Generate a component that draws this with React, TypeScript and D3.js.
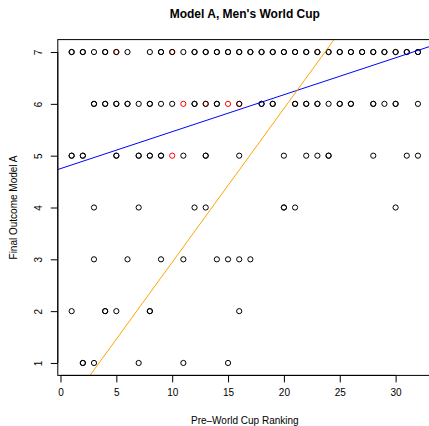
import { useEffect, useRef } from "react";
import * as d3 from "d3";

// ranks of teams for each final outcome (repeats = overplotted teams)
const outcome7Ranks = [1, 1, 2, 2, 3, 4, 4, 5, 6, 8, 9, 9, 10, 11, 12, 12, 13, 13, 14, 14, 15, 15, 16, 16, 17, 17, 18, 18, 19, 19, 20, 20, 21, 21, 22, 22, 23, 23, 24, 24, 25, 25, 26, 26, 27, 27, 28, 28, 29, 29, 30, 30, 31, 31, 32, 32];
const outcome6Ranks = [3, 3, 4, 4, 5, 5, 6, 6, 7, 8, 8, 9, 10, 12, 12, 13, 14, 14, 16, 18, 18, 19, 19, 21, 21, 22, 22, 23, 23, 24, 25, 25, 26, 26, 28, 28, 29, 30, 30, 32];
const outcome5Ranks = [1, 1, 2, 2, 5, 5, 7, 7, 8, 8, 9, 9, 11, 13, 13, 16, 20, 22, 23, 24, 24, 28, 31, 32];
const outcome4Ranks = [3, 7, 12, 13, 20, 20, 21, 30];
const outcome3Ranks = [3, 6, 9, 11, 14, 15, 16, 17];
const outcome2Ranks = [1, 4, 4, 5, 8, 8, 16];
const outcome1Ranks = [2, 2, 3, 7, 11, 15];

// highlighted (red) teams
const redRanks = [5, 10, 11, 13, 15, 16, 10];
const redOutcomes = [7, 7, 6, 6, 6, 6, 5];

// fitted lines: outcome = intercept + slope * rank
const blueLine = { intercept: 4.75, slope: 0.0713 };
const orangeLine = { intercept: -0.023, slope: 0.2966 };

const xTicks = [0, 5, 10, 15, 20, 25, 30];
const yTicks = [1, 2, 3, 4, 5, 6, 7];

export default function App() {
    const svgRef = useRef<SVGSVGElement | null>(null);

    useEffect(() => {
        if (!svgRef.current) return;
        document.body.style.margin = "0";

        const width = 429;
        const height = 426;

        d3.select(svgRef.current).selectAll("*").remove();
        const svg = d3
            .select(svgRef.current)
            .attr("width", width)
            .attr("height", height)
            .style("font-family", "Liberation Sans, Arial, sans-serif");

        const x = d3.scaleLinear().domain([-0.24, 33.24]).range([57.8, 431.8]);
        const y = d3.scaleLinear().domain([0.76, 7.24]).range([375.4, 39.6]);

        const [x0, x1] = x.range();
        const [yb, yt] = y.range();

        svg.append("defs")
            .append("clipPath")
            .attr("id", "plotClip")
            .append("rect")
            .attr("x", x0)
            .attr("y", yt)
            .attr("width", x1 - x0)
            .attr("height", yb - yt);

        // points
        const black: { r: number; o: number }[] = [];
        const rows = [outcome1Ranks, outcome2Ranks, outcome3Ranks, outcome4Ranks, outcome5Ranks, outcome6Ranks, outcome7Ranks];
        rows.forEach((ranks, i) => ranks.forEach((r) => black.push({ r, o: i + 1 })));
        const red = redRanks.map((r, i) => ({ r, o: redOutcomes[i] }));

        svg.append("g")
            .selectAll("circle")
            .data(red)
            .enter()
            .append("circle")
            .attr("cx", (d) => x(d.r))
            .attr("cy", (d) => y(d.o))
            .attr("r", 2.6)
            .attr("fill", "none")
            .attr("stroke", "#ff0000")
            .attr("stroke-width", 1);

        svg.append("g")
            .selectAll("circle")
            .data(black.filter((d) => !(d.o === 6 && (d.r === 11 || d.r === 15)) && !(d.o === 5 && d.r === 10)))
            .enter()
            .append("circle")
            .attr("cx", (d) => x(d.r))
            .attr("cy", (d) => y(d.o))
            .attr("r", 2.6)
            .attr("fill", "none")
            .attr("stroke", "#000")
            .attr("stroke-width", 1);

        // fitted lines
        const lines = svg.append("g").attr("clip-path", "url(#plotClip)");
        [
            { fit: blueLine, color: "#0000ff" },
            { fit: orangeLine, color: "#ffa500" },
        ].forEach(({ fit, color }) => {
            const ends = x.domain().map((r) => [x(r), y(fit.intercept + fit.slope * r)] as [number, number]);
            lines.append("path")
                .attr("d", d3.line()(ends))
                .attr("stroke", color)
                .attr("stroke-width", 1)
                .attr("fill", "none");
        });

        // box
        svg.append("rect")
            .attr("x", x0)
            .attr("y", yt)
            .attr("width", x1 - x0)
            .attr("height", yb - yt)
            .attr("fill", "none")
            .attr("stroke", "#000")
            .attr("stroke-width", 1);

        // x axis
        const xAxis = svg.append("g")
            .attr("transform", `translate(0,${yb})`)
            .call(d3.axisBottom(x).tickValues(xTicks).tickFormat(d3.format("d")).tickSize(7).tickPadding(7).tickSizeOuter(0));
        xAxis.select(".domain").attr("d", `M${x(0)},0H${x(30)}`);
        xAxis.selectAll("text").attr("font-size", 10).attr("font-family", "Liberation Sans, Arial, sans-serif");

        // y axis
        const yAxis = svg.append("g")
            .attr("transform", `translate(${x0},0)`)
            .call(d3.axisLeft(y).tickValues(yTicks).tickFormat(d3.format("d")).tickSize(7).tickSizeOuter(0));
        yAxis.select(".domain").attr("d", `M0,${y(1)}V${y(7)}`);
        yAxis.selectAll("text")
            .attr("font-size", 10)
            .attr("font-family", "Liberation Sans, Arial, sans-serif")
            .attr("x", null)
            .attr("dy", null)
            .attr("text-anchor", "middle")
            .attr("transform", "translate(-16,0) rotate(-90)");

        // titles
        svg.append("text")
            .attr("x", (x0 + x1) / 2)
            .attr("y", 18)
            .attr("text-anchor", "middle")
            .attr("font-size", 12)
            .attr("font-weight", "bold")
            .text("Model A, Men's World Cup");

        svg.append("text")
            .attr("x", (x0 + x1) / 2)
            .attr("y", 424)
            .attr("text-anchor", "middle")
            .attr("font-size", 10)
            .text("Pre\u2013World Cup Ranking");

        svg.append("text")
            .attr("transform", `translate(17,${(yt + yb) / 2}) rotate(-90)`)
            .attr("text-anchor", "middle")
            .attr("font-size", 10)
            .text("Final Outcome Model A");
    }, []);

    return <svg ref={svgRef} />;
}
